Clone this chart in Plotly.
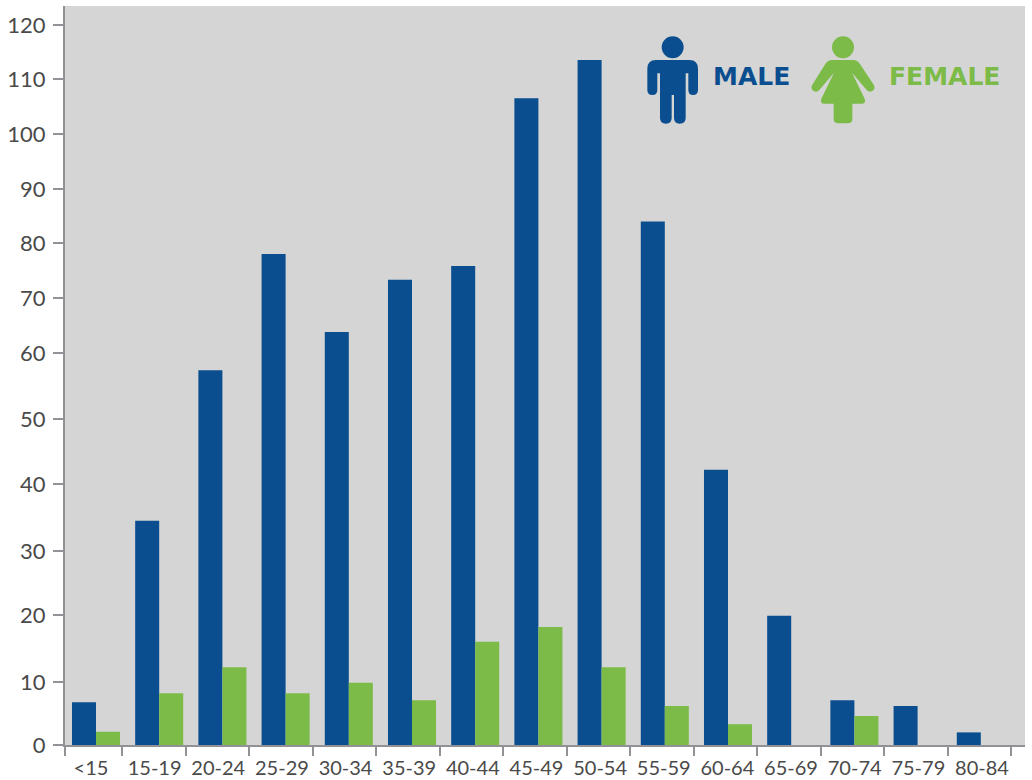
import numpy as np
import plotly.graph_objects as go

categories = ["<15", "15-19", "20-24", "25-29", "30-34", "35-39", "40-44", "45-49",
              "50-54", "55-59", "60-64", "65-69", "70-74", "75-79", "80-84"]
male = [6.8, 34.5, 57.4, 78, 63.8, 73.3, 75.8, 106.5, 113.5, 84, 42.2, 19.9, 7.1, 6.2, 2]
female = [2.1, 8.2, 12.2, 8.2, 9.9, 7.1, 16, 18.2, 12.2, 6.2, 3.3, 0, 4.6, 0, 0]
y_ticks = [0, 10, 20, 30, 40, 50, 60, 70, 80, 90, 100, 110, 120]
# the source's value axis is not evenly spaced: position of each tick above the baseline
y_tick_pos = [0, 63, 130, 194, 261, 326, 392, 447, 502, 556, 611, 666, 720]

BLUE, GREEN, BG, AXIS, TEXT = "#0A4E8F", "#7CBB47", "#D5D5D5", "#929296", "#4A4A4A"
W, H = 1032, 780
L, R, T, B = 65, 1025, 6, 745
FONT = "Lato"
BADGE = "DejaVu Sans"


def warp(v):
    return np.interp(v, y_ticks, y_tick_pos)


def idx(px):
    return (px - 96) / 63.2


def px(x):
    return (x - L) / (R - L)


def py(y):
    return (B - y) / (B - T)


def path(cmds):
    out = []
    for c in cmds:
        nums = c[1:]
        pts = [(px(620 + nums[i] / 3), py(20 + nums[i + 1] / 3)) for i in range(0, len(nums), 2)]
        out.append(c[0] + " ".join(f"{a:.5f},{b:.5f}" for a, b in pts))
    return " ".join(out) + " Z"


def circle(cx, cy, r, color):
    return dict(type="circle", xref="paper", yref="paper", layer="above", line_width=0, fillcolor=color,
                x0=px(620 + (cx - r) / 3), x1=px(620 + (cx + r) / 3),
                y0=py(20 + (cy + r) / 3), y1=py(20 + (cy - r) / 3))


male_icon = [
    ("M", 108, 120), ("L", 208, 120), ("Q", 234, 120, 234, 146), ("L", 234, 210),
    ("Q", 234, 225, 219, 225), ("Q", 205, 225, 205, 210), ("L", 205, 160), ("L", 197, 160),
    ("L", 197, 294), ("Q", 197, 311, 179, 311), ("Q", 162, 311, 162, 294), ("L", 162, 225),
    ("L", 155, 225), ("L", 155, 294), ("Q", 155, 311, 138, 311), ("Q", 120, 311, 120, 294),
    ("L", 120, 160), ("L", 112, 160), ("L", 112, 210), ("Q", 112, 225, 97, 225),
    ("Q", 82, 225, 82, 210), ("L", 82, 146), ("Q", 82, 120, 108, 120),
]
female_icon = [
    ("M", 636, 120), ("L", 700, 120), ("Q", 712, 120, 720, 132), ("L", 761, 194),
    ("Q", 768, 206, 757, 213), ("Q", 746, 219, 738, 208), ("L", 696, 158), ("L", 734, 236),
    ("Q", 739, 251, 724, 251), ("L", 697, 251), ("L", 697, 296), ("Q", 697, 310, 683, 310),
    ("L", 655, 310), ("Q", 641, 310, 641, 296), ("L", 641, 251), ("L", 614, 251),
    ("Q", 599, 251, 604, 236), ("L", 642, 158), ("L", 600, 208), ("Q", 592, 219, 581, 213),
    ("Q", 570, 206, 577, 194), ("L", 616, 132), ("Q", 624, 120, 636, 120),
]

fig = go.Figure()
fig.add_bar(name="MALE", x=list(range(len(categories))), y=warp(male).tolist(), marker_color=BLUE, marker_line_width=0)
fig.add_bar(name="FEMALE", x=list(range(len(categories))), y=warp(female).tolist(), marker_color=GREEN, marker_line_width=0)

boundary_px = [65] + [122 + 63.5 * k for k in range(15)]
label_px = [91 + 63.64 * k for k in range(len(categories))]
fig.update_layout(
    width=W, height=H, autosize=False, showlegend=False,
    margin=dict(l=L, r=W - R, t=T, b=H - B, pad=0, autoexpand=False),
    paper_bgcolor="white", plot_bgcolor=BG, barmode="group", bargap=0.24, bargroupgap=0,
    font=dict(family=FONT, color=TEXT),
    xaxis=dict(
        automargin=False,
        range=[idx(L), idx(R)], showgrid=False, zeroline=False, showline=True, linecolor=AXIS, linewidth=2,
        tickmode="array", tickvals=[idx(p) for p in label_px], ticktext=categories,
        ticks="", ticklen=0, tickfont=dict(size=20, family=FONT, color=TEXT), ticklabelstandoff=4, tickangle=0,
        minor=dict(tickmode="array", tickvals=[idx(p) for p in boundary_px], ticks="outside",
                   ticklen=9, tickwidth=2, tickcolor=AXIS, showgrid=False),
    ),
    yaxis=dict(
        automargin=False,
        range=[0, B - T], showgrid=False, zeroline=False, showline=True, linecolor=AXIS, linewidth=2,
        tickmode="array", tickvals=y_tick_pos, ticktext=[str(t) for t in y_ticks],
        ticks="outside", ticklen=10, tickwidth=2, tickcolor=AXIS,
        tickfont=dict(size=22, family=FONT, color=TEXT), ticklabelstandoff=3,
    ),
    shapes=[
        circle(158, 82, 33, BLUE),
        dict(type="path", xref="paper", yref="paper", layer="above", path=path(male_icon), fillcolor=BLUE, line_width=0),
        circle(669, 82, 33, GREEN),
        dict(type="path", xref="paper", yref="paper", layer="above", path=path(female_icon), fillcolor=GREEN, line_width=0),
    ],
    annotations=[
        dict(text="MALE", xref="paper", yref="paper", x=px(711), y=py(76), xanchor="left", yanchor="middle",
             showarrow=False, font=dict(family=BADGE, size=25, color=BLUE, weight=700)),
        dict(text="FEMALE", xref="paper", yref="paper", x=px(887), y=py(76), xanchor="left", yanchor="middle",
             showarrow=False, font=dict(family=BADGE, size=25, color=GREEN, weight=700)),
    ],
)
fig.write_html("out.html", post_script="document.body.style.margin='0';", config={"displayModeBar": False})
